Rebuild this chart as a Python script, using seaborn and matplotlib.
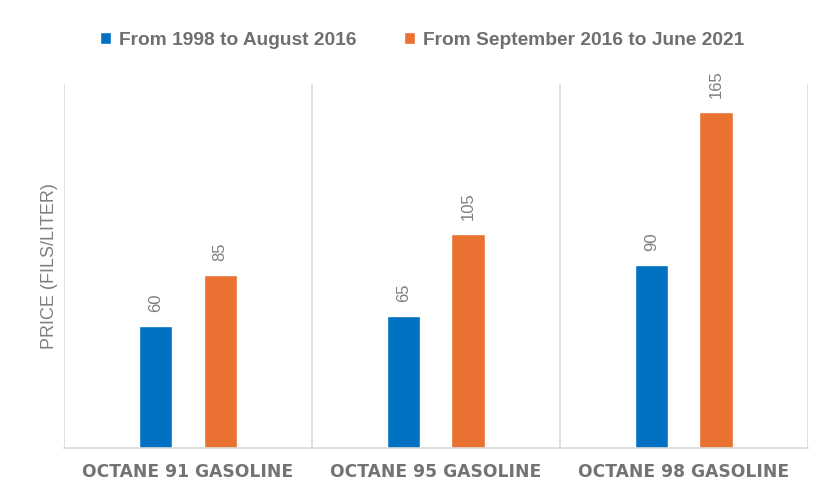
import matplotlib
matplotlib.use("Agg")
import matplotlib.pyplot as plt
import seaborn as sns
import pandas as pd
from matplotlib.patches import Patch

categories = ["OCTANE 91 GASOLINE", "OCTANE 95 GASOLINE", "OCTANE 98 GASOLINE"]
series_names = ["From 1998 to August 2016", "From September 2016 to June 2021"]
old_prices = [60, 65, 90]
new_prices = [85, 105, 165]

colors = ["#0070C0", "#E97132"]
gray = "#7F7F7F"

df = pd.DataFrame({
    "category": categories * 2,
    "series": [series_names[0]] * 3 + [series_names[1]] * 3,
    "price": old_prices + new_prices,
})

sns.set_theme(style="white")
plt.rcParams['font.family'] = ['Liberation Sans', 'DejaVu Sans']

fig = plt.figure(figsize=(8.2, 4.91), dpi=100)
ax = fig.add_axes([0.078, 0.0876, 0.907, 0.741])

sns.barplot(data=df, x="category", y="price", hue="series", order=categories,
            hue_order=series_names, palette=colors, width=0.52, gap=0.485,
            saturation=1, ax=ax, legend=False)

ax.set_ylim(0, 178.5)
ax.set_xlim(-0.5, 2.5)
ax.set_yticks([])
for xv in [-0.5, 0.5, 1.5, 2.5]:
    ax.axvline(xv, color="#D9D9D9", lw=1.2, zorder=0)
for s in ["top", "right", "left"]:
    ax.spines[s].set_visible(False)
ax.spines["bottom"].set_color("#D9D9D9")
ax.spines["bottom"].set_linewidth(1.2)

for cont in ax.containers:
    ax.bar_label(cont, labels=[f"{v:.0f}" for v in cont.datavalues], rotation=90,
                 padding=10, color=gray, fontsize=12)

ax.set_xlabel("")
ax.set_ylabel("PRICE (FILS/LITER)", color=gray, fontsize=13, labelpad=4)
ax.tick_params(axis="x", length=0, pad=11)
for lbl in ax.get_xticklabels():
    lbl.set_fontweight("bold")
    lbl.set_color("#737373")
    lbl.set_fontsize(12.3)
    lbl.set_family(['DejaVu Sans'])

handles = [Patch(facecolor=c, label=n) for c, n in zip(colors, series_names)]
leg = fig.legend(handles=handles, loc="center", bbox_to_anchor=(0.5146, 0.918), ncol=2,
                 frameon=False, handlelength=0.57, handleheight=0.57, handletextpad=0.4,
                 columnspacing=2.5, prop={"weight": "bold", "size": 13.8})
for t in leg.get_texts():
    t.set_color("#6F6F6F")

fig.savefig("out.png", dpi=100)
